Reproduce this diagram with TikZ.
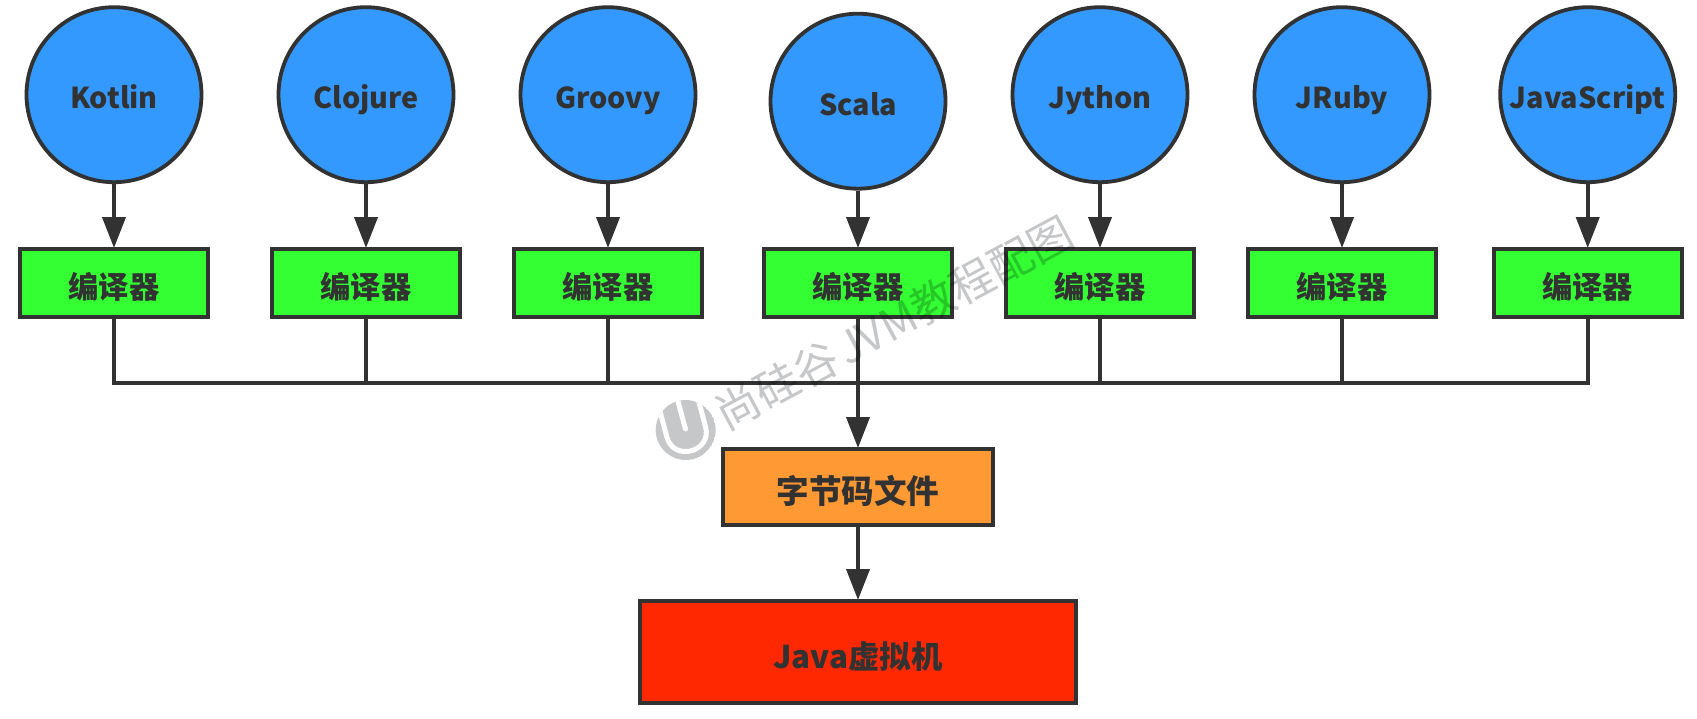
\documentclass[tikz,border=0pt]{standalone}
\usepackage{fontspec}
\setmainfont{Noto Sans CJK SC}
\usetikzlibrary{arrows.meta}
\definecolor{ink}{HTML}{323232}
\definecolor{langblue}{HTML}{3399FF}
\definecolor{compgreen}{HTML}{33FF33}
\definecolor{byteorange}{HTML}{FF9933}
\definecolor{jvmred}{HTML}{FF2800}
\definecolor{markgray}{HTML}{C6C7C9}
\tikzset{
  lang/.style={circle,draw=ink,line width=3.8pt,fill=langblue,minimum size=175pt,inner sep=0pt,text=ink,text height=29pt,text depth=1pt,font=\fontsize{28.8}{30}\selectfont\bfseries},
  comp/.style={rectangle,draw=ink,line width=4pt,fill=compgreen,minimum width=188pt,minimum height=68pt,inner sep=0pt,text=ink,text height=30pt,text depth=0pt,font=\fontsize{30.3}{30}\selectfont\bfseries},
  wire/.style={draw=ink,line width=4pt},
  flow/.style={wire,-{Triangle[length=31pt,width=23pt]},shorten >=-1pt},
  wmark/.style={text=markgray,font=\fontsize{44}{44}\selectfont},
}
\begin{document}
\begin{tikzpicture}[x=1pt,y=-1pt]
\useasboundingbox (0,0) rectangle (1697,718);
\fill[white] (0,0) rectangle (1697,718);
\foreach \n/\t/\cx/\cy in {a/Kotlin/114/94.7,b/Clojure/366/94.7,c/Groovy/608/94.7,d/Scala/858/101.2,e/Jython/1100/94.7,f/JRuby/1342/94.7,g/JavaScript/1587.7/94.7}{
  \node[lang] (\n) at (\cx,\cy) {\t};
  \node[comp] (\n comp) at (\cx,283) {编译器};
  \draw[flow] (\n) -- (\n comp);
  \coordinate (\n j) at (\cx,383);
}
\node[rectangle,draw=ink,line width=4pt,fill=byteorange,minimum width=270pt,minimum height=76pt,inner sep=0pt,text=ink,text height=32pt,text depth=0pt,font=\fontsize{32.6}{32}\selectfont\bfseries] (bcode) at (858,487) {字节码文件};
\node[rectangle,draw=ink,line width=4pt,fill=jvmred,minimum width=436pt,minimum height=102pt,inner sep=0pt,text=ink,text height=32pt,text depth=0pt,font=\fontsize{31.4}{32}\selectfont\bfseries] (jvm) at (858,652) {Java虚拟机};
\draw[wire,line join=miter] (acomp.south) -- (aj) -- (gj) -- (gcomp.south);
\foreach \n in {b,c,e,f}{\draw[wire] (\n comp.south) -- (\n j);}
\draw[flow] (dcomp) -- (bcode);
\draw[flow] (bcode) -- (jvm);
% watermark
\begin{scope}[blend mode=multiply]
\node[wmark,rotate=28.2,anchor=west] (wm) at (715.6,418.4) {尚硅谷 \kern-5pt JVM教程配图};
\end{scope}
\begin{scope}[shift={(685.7,430)},rotate=15]
\begin{scope}
\clip (0,0) circle (30);
\fill[markgray] (0,0) circle (30);
\draw[white,line width=5pt] (-20,-32) -- (-20,2) .. controls (-20,28) and (20,28) .. (20,2) -- (20,-32);
\draw[white,line width=5pt,line cap=round] (0,-34) -- (0,-1);
\end{scope}
\end{scope}
\end{tikzpicture}
\end{document}
